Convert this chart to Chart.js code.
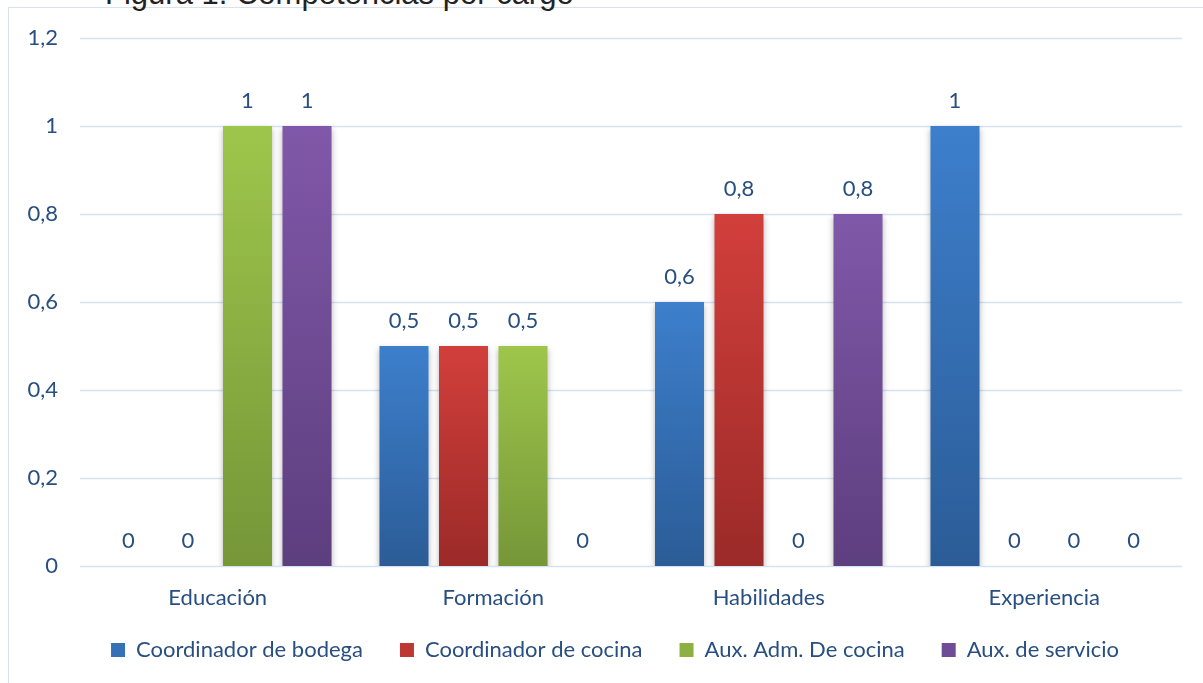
<!DOCTYPE html>
<html>
<head>
<meta charset="utf-8">
<script src="https://cdn.jsdelivr.net/npm/chart.js@4.4.1/dist/chart.umd.min.js"></script>
<style>
  html, body { margin: 0; padding: 0; background: #ffffff; overflow: hidden; width: 1203px; height: 683px; }
  #frame { position: absolute; left: 8px; top: 7px; width: 1400px; height: 900px; border: 1px solid #d9e1ec; box-sizing: border-box; }
  #title { position: absolute; left: 105px; top: -22px; font-family: "Liberation Sans", Arial, sans-serif; font-size: 31px; line-height: 31px; color: #222222; white-space: nowrap; }
  #c { position: absolute; left: 0; top: 0; }
</style>
</head>
<body>
<div id="frame"></div>
<div id="title">Figura 1. Competencias por cargo</div>
<canvas id="c" width="1203" height="683"></canvas>
<script>
const categories = ["Educación", "Formación", "Habilidades", "Experiencia"];
const seriesNames = ["Coordinador de bodega", "Coordinador de cocina", "Aux. Adm. De cocina", "Aux. de servicio"];
const coordBodega = [0, 0.5, 0.6, 1];
const coordCocina = [0, 0.5, 0.8, 0];
const auxAdmCocina = [1, 0.5, 0, 0];
const auxServicio = [1, 0, 0.8, 0];
const yTicks = [0, 0.2, 0.4, 0.6, 0.8, 1, 1.2];

const colorTop = ["#3d7fcc", "#d23f3b", "#9ec64b", "#8058a9"];
const colorBottom = ["#2b5c97", "#9b2a28", "#769638", "#5d3e7e"];
const colorMid = ["#3571b7", "#bd3733", "#8cb042", "#6f4c96"];

const textColor = "#284f80";
const fontFam = "Lato, 'Noto Sans', sans-serif";
const fontSize = 22;

function fmt(v) { return String(v).replace('.', ','); }

function gradFor(i) {
  return function(ctx) {
    if (ctx.type !== 'data') return colorMid[i];
    const chart = ctx.chart;
    if (!chart.chartArea) return colorMid[i];
    const y = chart.scales.y;
    const top = y.getPixelForValue(ctx.raw);
    const bottom = y.getPixelForValue(0);
    if (!(bottom - top > 0)) return colorMid[i];
    const g = chart.ctx.createLinearGradient(0, top, 0, bottom);
    g.addColorStop(0, colorTop[i]);
    g.addColorStop(1, colorBottom[i]);
    return g;
  };
}

const allSeries = [coordBodega, coordCocina, auxAdmCocina, auxServicio];

const shadowPlugin = {
  id: 'barShadow',
  beforeDatasetDraw(chart) {
    const ctx = chart.ctx;
    ctx.save();
    ctx.shadowColor = 'rgba(0,0,0,0.28)';
    ctx.shadowBlur = 6;
    ctx.shadowOffsetX = 0;
    ctx.shadowOffsetY = 3;
  },
  afterDatasetDraw(chart) {
    chart.ctx.restore();
  }
};

const gridPlugin = {
  id: 'customGrid',
  beforeDatasetsDraw(chart) {
    const ctx = chart.ctx;
    const y = chart.scales.y;
    const x = chart.scales.x;
    const area = chart.chartArea;
    ctx.save();
    ctx.strokeStyle = '#d5e2f4';
    ctx.lineWidth = 1.5;
    y.ticks.forEach(t => {
      const py = Math.round(y.getPixelForValue(t.value)) + 0.5;
      ctx.beginPath();
      ctx.moveTo(area.left, py);
      ctx.lineTo(area.right, py);
      ctx.stroke();
    });
    // axis tick labels, positioned by the scales
    ctx.font = fontSize + "px " + fontFam;
    ctx.fillStyle = textColor;
    ctx.textBaseline = 'middle';
    ctx.textAlign = 'right';
    y.ticks.forEach(t => {
      ctx.fillText(fmt(t.value), area.left - 22, y.getPixelForValue(t.value));
    });
    ctx.textAlign = 'center';
    chart.data.labels.forEach((lab, i) => {
      ctx.fillText(lab, x.getPixelForValue(i), area.bottom + 32);
    });
    ctx.restore();
  }
};

const labelPlugin = {
  id: 'valueLabels',
  afterDatasetsDraw(chart) {
    const ctx = chart.ctx;
    ctx.save();
    ctx.font = fontSize + "px " + fontFam;
    ctx.fillStyle = textColor;
    ctx.textAlign = 'center';
    ctx.textBaseline = 'middle';
    chart.data.datasets.forEach((ds, di) => {
      const meta = chart.getDatasetMeta(di);
      meta.data.forEach((bar, i) => {
        ctx.fillText(fmt(ds.data[i]), bar.x, bar.y - 25);
      });
    });
    ctx.restore();
  }
};

new Chart(document.getElementById('c'), {
  type: 'bar',
  data: {
    labels: categories,
    datasets: allSeries.map((d, i) => ({
      label: seriesNames[i],
      data: d,
      backgroundColor: gradFor(i),
      borderWidth: 0,
      categoryPercentage: 0.864,
      barPercentage: 0.824
    }))
  },
  options: {
    responsive: false,
    animation: false,
    devicePixelRatio: 1,
    layout: { padding: { top: 38, left: 48, right: 21, bottom: 12 } },
    plugins: {
      tooltip: { enabled: false },
      title: { display: false },
      legend: {
        position: 'bottom',
        labels: {
          boxWidth: 14,
          boxHeight: 14,
          padding: 37,
          color: textColor,
          font: { family: fontFam, size: fontSize },
          generateLabels(chart) {
            return chart.data.datasets.map((ds, i) => ({
              text: ds.label,
              fillStyle: colorMid[i],
              strokeStyle: colorMid[i],
              lineWidth: 0,
              hidden: false,
              datasetIndex: i,
              fontColor: textColor
            }));
          }
        }
      }
    },
    scales: {
      x: {
        grid: { display: false, drawTicks: false },
        border: { display: false },
        ticks: { display: false },
        afterFit(scale) { scale.height = 36; }
      },
      y: {
        min: 0,
        max: 1.2,
        afterBuildTicks(scale) { scale.ticks = yTicks.map(v => ({ value: v })); },
        grid: { display: false, drawTicks: false },
        border: { display: false },
        ticks: { display: false },
        afterFit(scale) { scale.width = 32; }
      }
    }
  },
  plugins: [gridPlugin, shadowPlugin, labelPlugin]
});
</script>
</body>
</html>
